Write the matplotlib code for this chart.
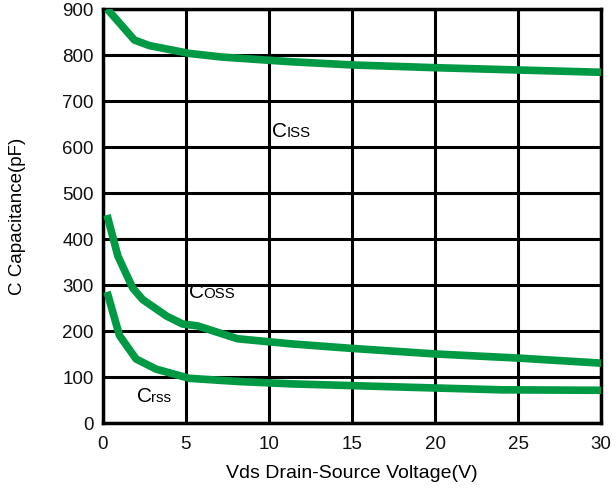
"""Capacitance vs drain-source voltage chart."""

import matplotlib
matplotlib.use("Agg")
import matplotlib.pyplot as plt
from matplotlib.transforms import offset_copy


plt.rcParams["font.family"] = ["Liberation Sans", "DejaVu Sans"]

LINE_COLOR = "#009944"
GRID_COLOR = "#000000"

# Ciss curve
ciss_v = [0.25, 1.9, 2.8, 5.2, 7.2, 11.3, 15, 20, 25, 30]
ciss_c = [900, 832, 820, 803, 795, 785, 778, 772, 767, 762]

# Coss curve
coss_v = [0.25, 0.9, 1.8, 2.4, 3.85, 4.8, 5.7, 8.1, 11.3, 15, 20, 25, 30]
coss_c = [452, 363, 293, 268, 232, 215, 211, 183, 172, 162, 150, 141, 130]

# Crss curve
crss_v = [0.25, 1.0, 2.0, 3.2, 5.2, 8.2, 11.3, 18, 24, 30]
crss_c = [285, 190, 139, 117, 97, 90, 85, 78, 72, 71]

x_ticks = [0, 5, 10, 15, 20, 25, 30]
y_ticks = [0, 100, 200, 300, 400, 500, 600, 700, 800, 900]

# label positions (V, pF) and subscripts
labels = [
    (10.2, 624, "ISS"),
    (5.2, 274, "OSS"),
    (2.05, 48, "rss"),
]

fig = plt.figure(figsize=(6.16, 4.89), dpi=100)
ax = fig.add_axes([0.167, 0.133, 0.809, 0.847])

ax.plot(ciss_v, ciss_c, color=LINE_COLOR, linewidth=5.5, solid_capstyle="butt", zorder=3)
ax.plot(coss_v, coss_c, color=LINE_COLOR, linewidth=5.5, solid_capstyle="butt", zorder=3)
ax.plot(crss_v, crss_c, color=LINE_COLOR, linewidth=5.5, solid_capstyle="butt", zorder=3)

ax.set_xlim(0, 30)
ax.set_ylim(0, 900)
ax.set_xticks(x_ticks)
ax.set_yticks(y_ticks)
ax.grid(True, color=GRID_COLOR, linewidth=2.2)
ax.set_axisbelow(True)
for spine in ax.spines.values():
    spine.set_linewidth(2.5)
    spine.set_color(GRID_COLOR)
ax.tick_params(length=0, labelsize=13.5, colors="#111111")
ax.tick_params(axis="x", pad=9)
ax.tick_params(axis="y", pad=6.5)

ax.set_xlabel("Vds Drain-Source Voltage(V)", fontsize=14, labelpad=8)
ax.set_ylabel("C Capacitance(pF)", fontsize=13.5, labelpad=26)

for x, y, sub in labels:
    ax.text(x, y, "C", fontsize=15, ha="left", va="baseline", zorder=4)
    tr = offset_copy(ax.transData, fig=fig, x=10.3, y=0, units="points")
    ax.text(x, y, sub, fontsize=10.8, ha="left", va="baseline", transform=tr, zorder=4)

fig.savefig("out.png", dpi=100)
